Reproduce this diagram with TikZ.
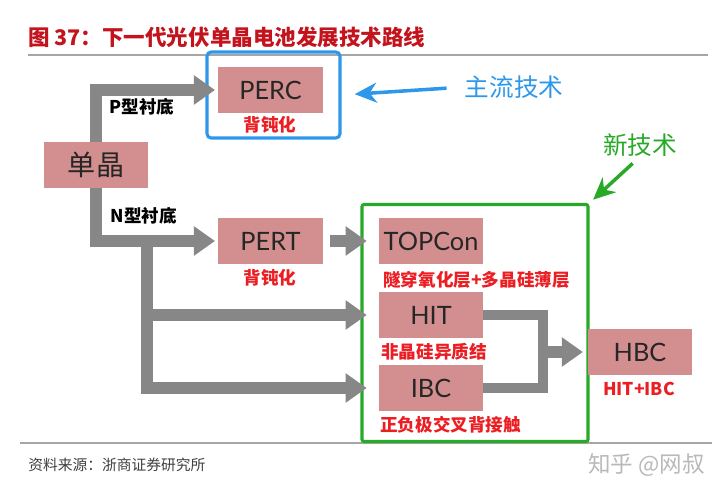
\documentclass[tikz,border=0pt]{standalone}
\usepackage{fontspec}
\setmainfont{Noto Sans CJK SC}
\newfontfamily\latin{Lato}
\usetikzlibrary{arrows.meta}
\definecolor{boxpink}{RGB}{211,143,143}
\definecolor{flowgray}{RGB}{135,135,135}
\definecolor{notered}{RGB}{235,30,35}
\definecolor{titlered}{RGB}{195,20,30}
\definecolor{mainblue}{RGB}{45,152,235}
\definecolor{newgreen}{RGB}{40,170,40}
\begin{document}
\begin{tikzpicture}[
    x=0.025cm, y=-0.025cm,
    every node/.style={inner sep=0pt},
    cell/.style={fill=boxpink, text=black!85, minimum width=2.6cm, minimum height=1.15cm,
      font=\latin\fontsize{18}{18}\selectfont},
    note/.style={text=notered, font=\bfseries\fontsize{12.5}{12.5}\selectfont},
    sub/.style={font=\bfseries\fontsize{12.5}{12.5}\selectfont},
    flow/.style={draw=flowgray, line width=8.5pt, -{Triangle[length=15pt,width=20pt]}},
    bar/.style={draw=flowgray, line width=7.5pt},
    pointer/.style={line width=2.5pt, -{Stealth[length=0.55cm,width=0.5cm]}}
  ]
  \useasboundingbox[fill=white] (0,0) rectangle (720,494);

  % Title and rules
  \node[anchor=west, text=titlered, font=\bfseries\fontsize{15.3}{15.3}\selectfont] (title) at (28,37)
    {图 37：下一代光伏单晶电池发展技术路线};
  \draw[gray!70, line width=1.4pt] (28,55) -- (708,55);
  \draw[gray!70, line width=1.4pt] (20,443) -- (712,443);

  % Frames
  \node[draw=mainblue, line width=2.2pt, rounded corners=3pt,
    minimum width=3.325cm, minimum height=2.15cm] (mainbox) at (273.5,95) {};
  \node[draw=newgreen, line width=2.2pt, rounded corners=1.5pt,
    minimum width=5.65cm, minimum height=5.925cm] (newbox) at (475,323) {};

  % Boxes
  \node[cell, font=\fontsize{20}{20}\selectfont] (dj) at (96,165) {单晶};
  \node[cell] (perc) at (270.5,90) {PERC};
  \node[cell] (pert) at (270.5,241) {PERT};
  \node[cell] (topcon) at (431,241) {TOPCon};
  \node[cell] (hit) at (431,315) {HIT};
  \node[cell] (ibc) at (431,388) {IBC};
  \node[cell] (hbc) at (640,352) {HBC};

  % Labels
  \node[note] (perclbl) at (270,125) {背钝化};
  \node[note] (pertlbl) at (270,278) {背钝化};
  \node[note, anchor=west] (topconlbl) at (383,280) {隧穿氧化层+多晶硅薄层};
  \node[note, anchor=west] (hitlbl) at (381,352) {非晶硅异质结};
  \node[note, anchor=west] (ibclbl) at (380,425) {正负极交叉背接触};
  \node[note] (hbclbl) at (639,389) {HIT+IBC};
  \node[sub] (ptype) at (142,107) {P型衬底};
  \node[sub] (ntype) at (144,216) {N型衬底};

  % Callouts
  \node[text=mainblue, font=\fontsize{17.5}{17.5}\selectfont] (mainlbl) at (514,87) {主流技术};
  \node[text=newgreen, font=\fontsize{17.5}{17.5}\selectfont] (newlbl) at (640,145) {新技术};
  \draw[pointer, draw=mainblue, fill=mainblue, shorten <=0.45cm, shorten >=0.33cm]
    (mainlbl.west) -- (mainbox.east);
  \draw[pointer, draw=newgreen, fill=newgreen, shorten <=0.25cm, shorten >=0.12cm]
    (newlbl.south) -- (newbox.north east);

  % Arrows
  \coordinate (split) at (147,241);
  \coordinate (merge) at (543,352);
  \draw[flow, shorten >=0.08cm] (dj.north) |- (perc.west);
  \draw[flow, shorten >=0.08cm] (dj.south) |- (pert.west);
  \draw[flow, shorten >=0.3cm] (split) |- (hit.west);
  \draw[flow, shorten >=0.3cm] (split) |- (ibc.west);
  \draw[flow, shorten <=0.18cm, shorten >=0.3cm] (pert) -- (topcon);
  \draw[bar] (hit.east) -| (merge) |- (ibc.east);
  \draw[flow, shorten >=0.12cm] (merge) -- (hbc.west);

  % Footer
  \node[anchor=west, text=black!75, font=\fontsize{10.5}{10.5}\selectfont] (source) at (28,465)
    {资料来源：浙商证券研究所};
  \node[anchor=east, text=gray!55, font=\fontsize{16}{16}\selectfont] (mark) at (705,465)
    {知乎 @网叔};
\end{tikzpicture}
\end{document}
